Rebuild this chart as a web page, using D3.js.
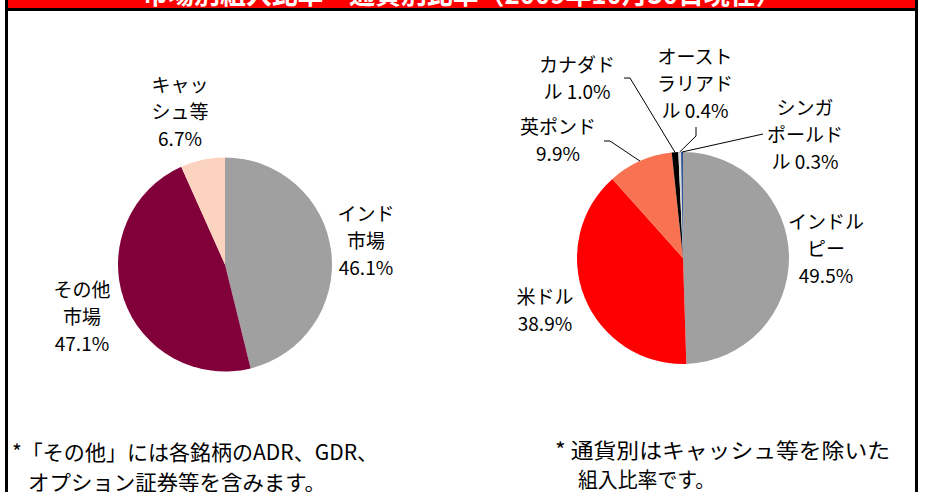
<!DOCTYPE html>
<html>
<head>
<meta charset="utf-8">
<script src="https://d3js.org/d3.v7.min.js"></script>
<style>
    body { margin: 0; background: #fff; }
    svg { display: block; font-family: "Noto Sans CJK JP", sans-serif; }
</style>
</head>
<body>
<svg id="chart" width="926" height="492"></svg>
<script>
    // 市場別
    let marketNames = ["インド\n市場", "その他\n市場", "キャッ\nシュ等"]
    let marketValues = [46.1, 47.1, 6.7]
    let marketColors = ["#A0A0A0", "#82003A", "#FCD3BF"]

    // 通貨別
    let currencyNames = ["インドル\nピー", "米ドル", "英ポンド", "カナダド\nル", "オースト\nラリアド\nル", "シンガ\nポールド\nル"]
    let currencyValues = [49.5, 38.9, 9.9, 1.0, 0.4, 0.3]
    let currencyColors = ["#A0A0A0", "#FF0000", "#F97352", "#000000", "#D9D9D9", "#2F5597"]

    let titleText = "市場別組入比率・通貨別比率（2009年10月30日現在）"
    let noteLeft = ["*「その他」には各銘柄のADR、GDR、", "オプション証券等を含みます。"]
    let noteRight = ["* 通貨別はキャッシュ等を除いた", "組入比率です。"]

    // label layout: x, y of first line, percent on last name line?, leader elbow points
    let marketLabelLayout = [
        { x: 366, y: 221, inline: false },
        { x: 82, y: 297, inline: false },
        { x: 180, y: 92, inline: false }
    ]
    let currencyLabelLayout = [
        { x: 826, y: 229, inline: false },
        { x: 545, y: 304, inline: false },
        { x: 558, y: 134, inline: false, leader: [[604, 141], [610, 141]] },
        { x: 577, y: 72, inline: true, leader: [[624, 78], [630, 78]] },
        { x: 695, y: 64, inline: true, leader: [[696, 127], [696, 136]] },
        { x: 805, y: 115, inline: true, leader: [[763, 134]] }
    ]

    let svg = d3.select("#chart")
    let lineH = 27

    function drawFrame() {
        svg.append("rect").attr("x", 8).attr("y", 0).attr("width", 907).attr("height", 8).attr("fill", "#FF0000")
        svg.append("text")
            .attr("x", 462).attr("y", 4)
            .attr("text-anchor", "middle")
            .attr("textLength", 639).attr("lengthAdjust", "spacingAndGlyphs")
            .attr("font-size", 27).attr("font-weight", "bold")
            .attr("fill", "#fff")
            .text(titleText)
        svg.append("rect").attr("x", 5).attr("y", 8).attr("width", 913).attr("height", 3).attr("fill", "#000")
        svg.append("rect").attr("x", 5).attr("y", 0).attr("width", 3).attr("height", 492).attr("fill", "#000")
        svg.append("rect").attr("x", 915).attr("y", 0).attr("width", 3).attr("height", 492).attr("fill", "#000")
    }

    function drawPie(names, values, colors, layout, cx, cy, r) {
        let pie = d3.pie().sort(null).value(d => d)
        let arcs = pie(values)
        let arc = d3.arc().innerRadius(0).outerRadius(r)

        let g = svg.append("g").attr("transform", `translate(${cx},${cy})`)
        g.selectAll("path")
            .data(arcs)
            .enter().append("path")
            .attr("d", arc)
            .attr("fill", (d, i) => colors[i])

        // leader lines
        arcs.forEach((d, i) => {
            let lay = layout[i]
            if (!lay.leader) return
            let mid = (d.startAngle + d.endAngle) / 2
            let end = [cx + r * Math.sin(mid), cy - r * Math.cos(mid)]
            let pts = lay.leader.concat([end])
            svg.append("path")
                .attr("d", d3.line()(pts))
                .attr("fill", "none")
                .attr("stroke", "#000")
                .attr("stroke-width", 1)
        })

        // labels
        arcs.forEach((d, i) => {
            let lay = layout[i]
            let lines = names[i].split("\n")
            let pct = values[i].toFixed(1) + "%"
            if (lay.inline) lines[lines.length - 1] += " " + pct
            else lines.push(pct)
            let t = svg.append("text")
                .attr("text-anchor", "middle")
                .attr("font-size", 19)
                .attr("fill", "#000")
            lines.forEach((ln, k) => {
                t.append("tspan")
                    .attr("x", lay.x)
                    .attr("y", lay.y + k * lineH)
                    .text(ln)
            })
        })
    }

    function drawNotes() {
        let notes = [
            { lines: noteLeft, x: [12, 28], y: [460, 490], w: [366, 298] },
            { lines: noteRight, x: [555, 578], y: [458, 487], w: [335, 137] }
        ]
        notes.forEach(n => {
            n.lines.forEach((ln, k) => {
                svg.append("text")
                    .attr("x", n.x[k]).attr("y", n.y[k])
                    .attr("font-size", 21)
                    .attr("textLength", n.w[k]).attr("lengthAdjust", "spacingAndGlyphs")
                    .attr("fill", "#000")
                    .text(ln)
            })
        })
    }

    drawFrame()
    drawPie(marketNames, marketValues, marketColors, marketLabelLayout, 225, 264.5, 107)
    drawPie(currencyNames, currencyValues, currencyColors, currencyLabelLayout, 683, 258, 106)
    drawNotes()
</script>
</body>
</html>
